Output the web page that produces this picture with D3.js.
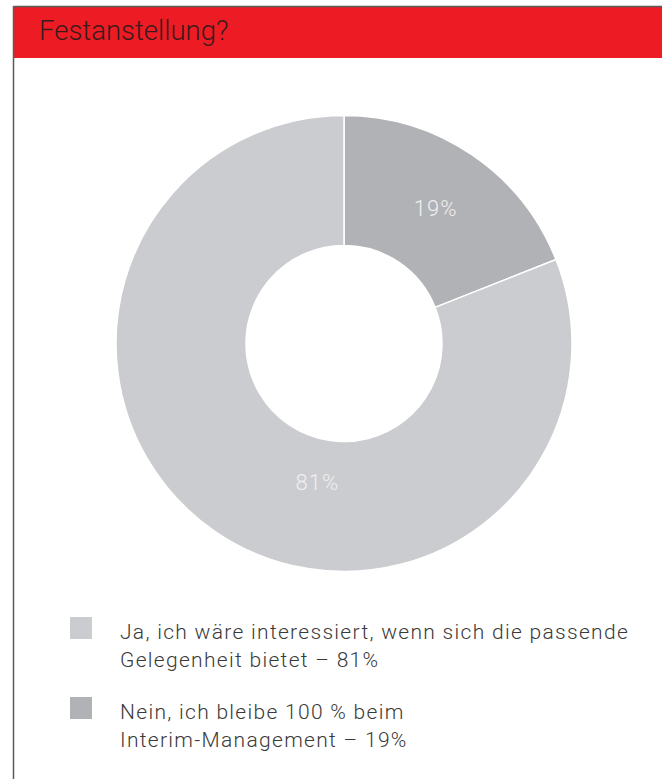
<!DOCTYPE html>
<html>
<head>
<meta charset="utf-8">
<script src="https://cdn.jsdelivr.net/npm/d3@7"></script>
<style>
  html, body { margin: 0; padding: 0; background: #fff; }
  svg { display: block; }
  text { font-family: Roboto, "Liberation Sans", sans-serif; }
</style>
</head>
<body>
<svg id="chart" width="662" height="779"></svg>
<script>
// Survey answers: share of respondents (percent)
const categories = [
  "Nein, ich bleibe 100 % beim Interim-Management",
  "Ja, ich wäre interessiert, wenn sich die passende Gelegenheit bietet"
];
const values = [19, 81];
const sliceLabels = ["19%", "81%"];
const legendLines = [
  ["Ja, ich wäre interessiert, wenn sich die passende", "Gelegenheit bietet – 81%"],
  ["Nein, ich bleibe 100 % beim", "Interim-Management – 19%"]
];
const legendOrder = [1, 0]; // legend lists "Ja" first
const title = "Festanstellung?";

const colors = d3.scaleOrdinal().domain(categories).range(["#b1b2b5", "#cbcccf"]);

const svg = d3.select("#chart");

// Frame: grey rule on top and left, red title band
svg.append("rect").attr("x", 13.5).attr("y", 7).attr("width", 662).attr("height", 51).attr("fill", "#ed1c24");
svg.append("line").attr("x1", 13.5).attr("x2", 662).attr("y1", 6.5).attr("y2", 6.5)
  .attr("stroke", "#5a5a5a").attr("stroke-width", 1.5);
svg.append("line").attr("x1", 13.5).attr("x2", 13.5).attr("y1", 6).attr("y2", 779)
  .attr("stroke", "#5a5a5a").attr("stroke-width", 1.5);
svg.append("text").attr("x", 39).attr("y", 40).text(title)
  .attr("font-size", 27.5).attr("font-weight", 300).attr("fill", "#3b1a1c");

// Donut
const cx = 344, cy = 343.5, rOuter = 228, rInner = 98;
const pie = d3.pie().value(d => d).sort(null);
const arcs = pie(values);
const arc = d3.arc().innerRadius(rInner).outerRadius(rOuter);

const g = svg.append("g").attr("transform", `translate(${cx},${cy})`);
g.selectAll("path.slice").data(arcs).join("path")
  .attr("class", "slice")
  .attr("d", arc)
  .attr("fill", (d, i) => colors(categories[i]))
  .attr("stroke", "#fff").attr("stroke-width", 1.5);

// Value labels: small slice at its centroid, large slice placed lower near the bottom
const labelPos = (d, i) => {
  if (i === 0) return arc.centroid(d);
  const a = d.startAngle + (d.endAngle - d.startAngle) * 0.42;
  const r = (rInner + rOuter) / 2 - 22;
  return [r * Math.sin(a), -r * Math.cos(a)];
};
g.selectAll("text.val").data(arcs).join("text")
  .attr("class", "val")
  .attr("transform", (d, i) => `translate(${labelPos(d, i)})`)
  .attr("text-anchor", "middle").attr("dy", "0.35em")
  .attr("font-size", 22).attr("font-weight", 300).attr("letter-spacing", 1)
  .attr("fill", "#efefef")
  .text((d, i) => sliceLabels[i]);

// Legend
const leg = svg.append("g").attr("class", "legend");
const items = leg.selectAll("g").data(legendOrder).join("g")
  .attr("transform", (d, i) => `translate(70,${617 + i * 80})`);
items.append("rect").attr("width", 22).attr("height", 22)
  .attr("fill", d => colors(categories[d]));
items.each(function(d, i) {
  const t = d3.select(this).append("text").attr("x", 50).attr("y", 22)
    .attr("font-size", 21).attr("font-weight", 300).attr("letter-spacing", 1.3)
    .attr("fill", "#3a3a3a");
  legendLines[i].forEach((line, k) => {
    t.append("tspan").attr("x", 50).attr("dy", k === 0 ? 0 : 28).text(line);
  });
});
</script>
</body>
</html>
